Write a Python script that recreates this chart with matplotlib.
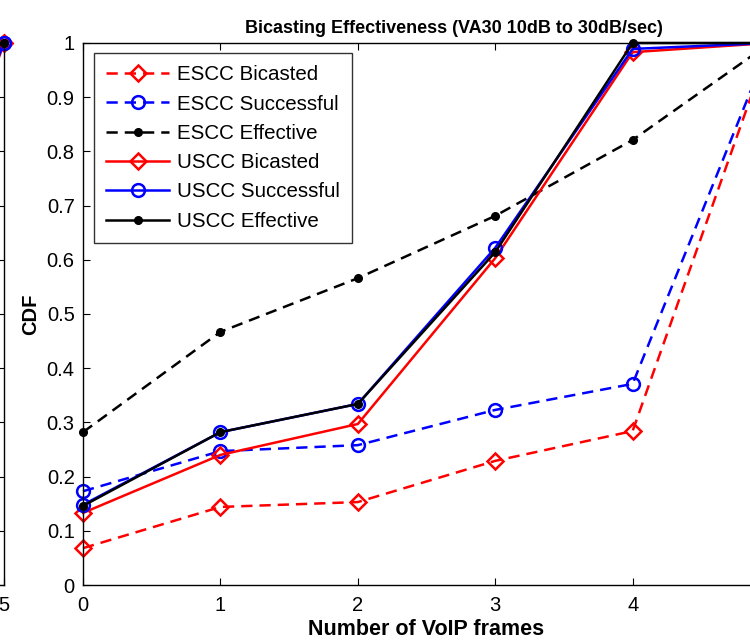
import numpy as np
import matplotlib
matplotlib.use("Agg")
import matplotlib.pyplot as plt
from matplotlib.ticker import FormatStrFormatter

plt.rcParams['font.family'] = ['Liberation Sans', 'DejaVu Sans']

# number of VoIP frames
frames = [0, 1, 2, 3, 4, 5]

# CDF values
escc_bicasted = [0.068, 0.144, 0.153, 0.229, 0.284, 1.0]
escc_successful = [0.173, 0.247, 0.258, 0.323, 0.371, 1.0]
escc_effective = [0.282, 0.467, 0.566, 0.681, 0.821, 1.0]
uscc_bicasted = [0.133, 0.240, 0.297, 0.603, 0.983, 1.0]
uscc_successful = [0.148, 0.282, 0.334, 0.622, 0.989, 1.0]
uscc_effective = [0.146, 0.282, 0.334, 0.614, 1.0, 1.0]

labels = ['ESCC Bicasted', 'ESCC Successful', 'ESCC Effective',
          'USCC Bicasted', 'USCC Successful', 'USCC Effective']
series = [escc_bicasted, escc_successful, escc_effective,
          uscc_bicasted, uscc_successful, uscc_effective]
colors = ['red', 'blue', 'black', 'red', 'blue', 'black']
markers = ['D', 'o', '.', 'D', 'o', '.']
styles = ['--', '--', '--', '-', '-', '-']

fig = plt.figure(figsize=(7.5, 6.43), dpi=100)

# sibling subplot, mostly cut off on the left
ax0 = fig.add_axes([-0.9, 0.0902, 0.9053, 0.843])
# main subplot, right part cut off
ax = fig.add_axes([0.1107, 0.0902, 0.916, 0.843])


def draw(a):
    for y, lab, c, m, ls in zip(series, labels, colors, markers, styles):
        if m == '.':
            kw = dict(marker='o', markersize=5.5, markerfacecolor=c,
                      markeredgecolor=c)
        elif m == 'D':
            kw = dict(marker='D', markersize=8.6, markerfacecolor='none',
                      markeredgecolor=c, markeredgewidth=1.8)
        else:
            kw = dict(marker='o', markersize=9.2, markerfacecolor='none',
                      markeredgecolor=c, markeredgewidth=1.8)
        line, = a.plot(frames, y, ls, color=c, lw=1.8, label=lab,
                       clip_on=False, **kw)
        if ls == '--':
            line.set_dashes((4.5, 2.8))
    a.set_xlim(0, 5)
    a.set_ylim(0, 1)
    a.set_xticks(frames)
    a.set_yticks(np.arange(0, 1.01, 0.1))
    a.yaxis.set_major_formatter(FormatStrFormatter('%g'))
    a.tick_params(direction='in', length=5, width=0.8, top=True, right=True,
                  labelsize=14.5)
    a.tick_params(axis='x', pad=8)
    a.tick_params(axis='y', pad=6)
    for s in a.spines.values():
        s.set_linewidth(1.0)


draw(ax0)
draw(ax)

# only the last x label of the left panel is inside the picture
ax0.set_xticklabels([''] * (len(frames) - 1) + ['5'])
ax0.tick_params(axis='y', labelleft=False)

ax.set_title('Bicasting Effectiveness (VA30 10dB to 30dB/sec)',
             fontsize=13, fontweight='bold', x=0.54, pad=7)
ax.set_xlabel('Number of VoIP frames', fontsize=15.5, fontweight='bold',
              labelpad=3)
ax.set_ylabel('CDF', fontsize=14.5, fontweight='bold', labelpad=5)

leg = ax.legend(loc='upper left', bbox_to_anchor=(0.016, 0.9815),
                fontsize=14.8, frameon=True, fancybox=False,
                edgecolor='black', handlelength=3.05, borderpad=0.6,
                labelspacing=0.5, handletextpad=0.4, borderaxespad=0.0)
leg.get_frame().set_linewidth(1.0)

fig.savefig('out.png', dpi=100)
